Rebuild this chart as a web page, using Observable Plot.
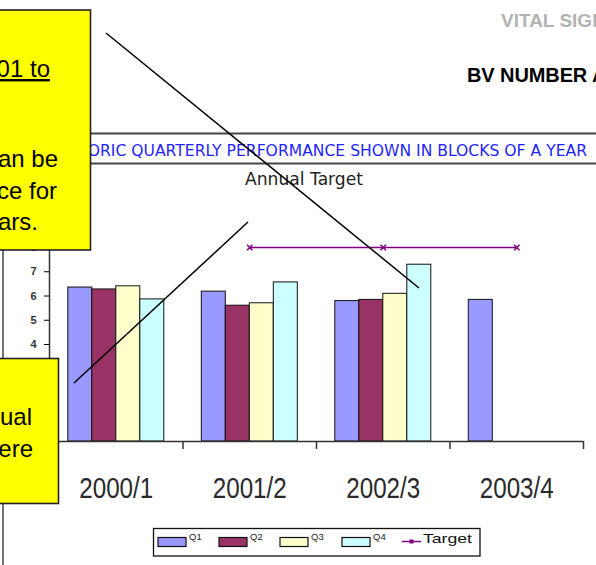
<!DOCTYPE html>
<html><head><meta charset="utf-8">
<script src="https://cdn.jsdelivr.net/npm/d3@7"></script>
<script src="https://cdn.jsdelivr.net/npm/@observablehq/plot@0.6"></script>
<style>
body{margin:0;background:#fff;}
#wrap{position:relative;width:596px;height:565px;overflow:hidden;background:#fff;}
#wrap > svg{position:absolute;left:0;top:0;}
g[aria-label="x-axis tick label"] text{font-size:29px;font-family:"Liberation Sans Narrow","Liberation Sans",sans-serif;fill:#2a2a2a;}
g[aria-label="y-axis tick label"] text{font-size:11px;font-family:"Liberation Sans Narrow","Liberation Sans",sans-serif;fill:#333;font-weight:bold;}
</style></head><body><div id="wrap"></div>
<script>
// ---- data ----
const years = ["2000/1", "2001/2", "2002/3", "2003/4"];
const quarters = ["Q1", "Q2", "Q3", "Q4"];
const q1 = [6.35, 6.18, 5.79, 5.84];
const q2 = [6.27, 5.60, 5.84, null];
const q3 = [6.40, 5.70, 6.09, null];
const q4 = [5.86, 6.56, 7.29, null];
const targetYears = ["2001/2", "2002/3", "2003/4"];
const targetValues = [8, 8, 8];
const yTicks = [0, 1, 2, 3, 4, 5, 6, 7, 8, 9];
const colors = ["#9999FF", "#993366", "#FFFFCC", "#CCFFFF"];
const targetColor = "#800080";

const series = [q1, q2, q3, q4];
const band = (583 - 49) / years.length;
const groupStart = 18.8, barW = 24;

const barMarks = series.map((vals, i) => {
  const rows = years.map((y, j) => ({year: y, quarter: quarters[i], value: vals[j]})).filter(d => d.value != null);
  return Plot.barY(rows, {
    x: "year", y: "value", fill: colors[i], stroke: "#111", strokeWidth: 1,
    insetLeft: groupStart + barW * i,
    insetRight: band - (groupStart + barW * (i + 1))
  });
});
const targetRows = targetYears.map((y, j) => ({year: y, value: targetValues[j]}));

const chart = Plot.plot({
  width: 596, height: 565,
  marginLeft: 49, marginRight: 13, marginTop: 222.75, marginBottom: 124,
  style: {background: "transparent", fontFamily: "Liberation Sans, sans-serif"},
  x: {type: "band", domain: years, range: [49, 583], padding: 0, round: false,
      tickSize: 0, tickPadding: 36, label: null},
  y: {domain: [0, 9], range: [441, 441 - 9 * 24.25], ticks: yTicks,
      tickSize: 5, tickPadding: 8, label: null},
  marks: [
    ...barMarks,
    Plot.ruleY([0], {stroke: "#333", strokeWidth: 1.5}),
    Plot.ruleX(years, {x: d => d, dx: band / 2, y1: 0, y2: -0.33, stroke: "#333", strokeWidth: 1.5}),
    Plot.ruleX([years[0]], {x: d => d, dx: -band / 2, y1: 0, y2: 9, stroke: "#333", strokeWidth: 1.5}),
    Plot.lineY(targetRows, {x: "year", y: "value", stroke: targetColor, strokeWidth: 1.6}),
    Plot.dot(targetRows, {x: "year", y: "value", symbol: "times", r: 2.6, stroke: targetColor, strokeWidth: 1.5})
  ]
});
const wrap = document.getElementById("wrap");
wrap.appendChild(chart);
// narrow the category labels like the original condensed face
d3.select(chart).selectAll('g[aria-label="x-axis tick label"] text')
  .attr("textLength", 74).attr("lengthAdjust", "spacingAndGlyphs");

// ---- annotations overlay ----
const svg = d3.select(wrap).append("svg").attr("width", 596).attr("height", 565)
  .style("font-family", "Liberation Sans, Arial, sans-serif");

svg.append("text").attr("x", 501).attr("y", 27).text("VITAL SIGNS")
  .attr("font-size", 19).attr("font-weight", "bold").attr("fill", "#b3b3b3");
svg.append("text").attr("x", 467).attr("y", 82).text("BV NUMBER AND TITLE")
  .attr("font-size", 20).attr("font-weight", "bold").attr("fill", "#000").attr("letter-spacing", -0.1);

// subtitle band
svg.append("line").attr("x1", 90).attr("x2", 596).attr("y1", 133.5).attr("y2", 133.5).attr("stroke", "#444").attr("stroke-width", 2);
svg.append("line").attr("x1", 90).attr("x2", 596).attr("y1", 163.5).attr("y2", 163.5).attr("stroke", "#444").attr("stroke-width", 2);
svg.append("text").attr("x", 52).attr("y", 156).text("HISTORIC QUARTERLY PERFORMANCE SHOWN IN BLOCKS OF A YEAR")
  .attr("font-family", "DejaVu Sans, sans-serif").attr("font-size", 15).attr("fill", "#1f1fff")
  .attr("textLength", 535).attr("lengthAdjust", "spacingAndGlyphs");

svg.append("text").attr("x", 245).attr("y", 185).text("Annual Target")
  .attr("font-family", "DejaVu Sans, sans-serif").attr("font-size", 17).attr("fill", "#222")
  .attr("textLength", 118).attr("lengthAdjust", "spacingAndGlyphs");

// page frame line
svg.append("line").attr("x1", 3).attr("x2", 3).attr("y1", 250).attr("y2", 565).attr("stroke", "#444").attr("stroke-width", 1.5);

// legend
const lg = svg.append("g");
lg.append("rect").attr("x", 153.5).attr("y", 528.5).attr("width", 326.5).attr("height", 27.5)
  .attr("fill", "#fff").attr("stroke", "#111").attr("stroke-width", 1.3);
const swX = [158, 219, 280, 342];
quarters.forEach((q, i) => {
  lg.append("rect").attr("x", swX[i]).attr("y", 537.5).attr("width", 28).attr("height", 9)
    .attr("fill", colors[i]).attr("stroke", "#111").attr("stroke-width", 1.2);
  lg.append("text").attr("x", swX[i] + 31).attr("y", 540).text(q)
    .attr("font-size", 9.5).attr("fill", "#222").attr("font-family", "Liberation Sans Narrow, Liberation Sans, sans-serif");
});
lg.append("line").attr("x1", 402).attr("x2", 421).attr("y1", 541.5).attr("y2", 541.5).attr("stroke", targetColor).attr("stroke-width", 1.5);
lg.append("rect").attr("x", 409.5).attr("y", 539.5).attr("width", 4).attr("height", 4).attr("fill", targetColor);
lg.append("text").attr("x", 423).attr("y", 543).text("Target")
  .attr("font-size", 13).attr("fill", "#111").attr("font-family", "Liberation Sans Narrow, Liberation Sans, sans-serif")
  .attr("textLength", 49).attr("lengthAdjust", "spacingAndGlyphs");

// yellow callouts
const boxFont = {size: 24};
svg.append("rect").attr("x", -5).attr("y", 10).attr("width", 95.5).attr("height", 240)
  .attr("fill", "#FFFF00").attr("stroke", "#222").attr("stroke-width", 1.6);
[["01 to", 50, 77, true], ["an be", 58, 167], ["ce for", 57, 199], ["ars.", 38, 230]].forEach(([t, x, y, u]) => {
  svg.append("text").attr("x", x).attr("y", y).attr("text-anchor", "end").text(t)
    .attr("font-size", boxFont.size).attr("fill", "#000")
    .attr("text-decoration", u ? "underline" : null);
});
svg.append("rect").attr("x", -5).attr("y", 358.5).attr("width", 63.5).attr("height", 145)
  .attr("fill", "#FFFF00").attr("stroke", "#222").attr("stroke-width", 1.6);
[["ual", 32, 425], ["ere", 33, 457]].forEach(([t, x, y]) => {
  svg.append("text").attr("x", x).attr("y", y).attr("text-anchor", "end").text(t)
    .attr("font-size", boxFont.size).attr("fill", "#000");
});

// pointer lines
svg.append("line").attr("x1", 106).attr("y1", 33).attr("x2", 419).attr("y2", 288).attr("stroke", "#000").attr("stroke-width", 1.5);
svg.append("line").attr("x1", 248).attr("y1", 222).attr("x2", 74).attr("y2", 383).attr("stroke", "#000").attr("stroke-width", 1.5);
</script>
</body></html>
